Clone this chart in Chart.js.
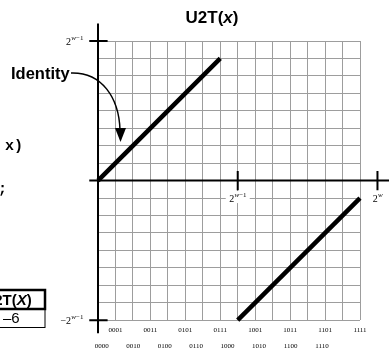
<!DOCTYPE html>
<html>
<head>
<meta charset="utf-8">
<script src="https://cdn.jsdelivr.net/npm/chart.js@4/dist/chart.umd.min.js"></script>
<style>
  html, body { margin: 0; padding: 0; background: #fff; }
  #wrap { width: 389px; height: 351px; position: relative; }
</style>
</head>
<body>
<div id="wrap"><canvas id="u2tChart"></canvas></div>
<script>
// donnees du graphique
var binLabels = ['0000', '0001', '0010', '0011', '0100', '0101', '0110', '0111',
                 '1000', '1001', '1010', '1011', '1100', '1101', '1110', '1111'];
var oddTicks = [1, 3, 5, 7, 9, 11, 13, 15];
var evenTicks = [0, 2, 4, 6, 8, 10, 12, 14];
var identX = [0, 7];
var identY = [0, 7];
var wrapX = [8, 15];
var wrapY = [-8, -1];
var xTickMarks = [8, 16];          // 2^(w-1), 2^w
var xTickSups = ['w\u22121', 'w'];
var yTickMarks = [8, -8];          // 2^(w-1), -2^(w-1)
var yTickPrefix = ['', '\u2212'];

function toPoints(xs, ys) {
  return xs.map(function (x, i) { return { x: x, y: ys[i] }; });
}

// texte "2" + exposant
function powText(ctx, prefix, sup, x, y, align) {
  ctx.font = '10px "Liberation Serif"';
  var wBase = ctx.measureText(prefix + '2').width;
  ctx.font = 'italic 7px "Liberation Serif"';
  var wW = ctx.measureText(sup.charAt(0)).width;
  ctx.font = '7px "Liberation Serif"';
  var wRest = ctx.measureText(sup.slice(1)).width;
  var total = wBase + wW + wRest;
  var x0 = align === 'right' ? x - total : (align === 'center' ? x - total / 2 : x);
  ctx.textAlign = 'left';
  ctx.textBaseline = 'alphabetic';
  ctx.fillStyle = '#000';
  ctx.font = '10px "Liberation Serif"';
  ctx.fillText(prefix + '2', x0, y + 3.5);
  ctx.font = 'italic 7px "Liberation Serif"';
  ctx.fillText(sup.charAt(0), x0 + wBase + 0.3, y - 1);
  ctx.font = '7px "Liberation Serif"';
  ctx.fillText(sup.slice(1), x0 + wBase + wW + 0.3, y - 1);
  return { x: x0, w: total };
}

var decorPlugin = {
  id: 'decor',
  afterDraw: function (chart) {
    var ctx = chart.ctx;
    var xs = chart.scales.x, ys = chart.scales.y;
    var x0 = xs.getPixelForValue(0), y0 = ys.getPixelForValue(0);
    ctx.save();

    // axes principaux
    ctx.strokeStyle = '#000';
    ctx.lineWidth = 2;
    ctx.beginPath();
    ctx.moveTo(x0, ys.getPixelForValue(9));
    ctx.lineTo(x0, ys.getPixelForValue(-8.75));
    ctx.moveTo(xs.getPixelForValue(-0.5), y0);
    ctx.lineTo(chart.width, y0);
    ctx.stroke();

    // graduations en croix
    ctx.beginPath();
    yTickMarks.forEach(function (v) {
      var py = ys.getPixelForValue(v);
      ctx.moveTo(xs.getPixelForValue(-0.5), py);
      ctx.lineTo(xs.getPixelForValue(0.55), py);
    });
    xTickMarks.forEach(function (v) {
      var px = xs.getPixelForValue(v);
      ctx.moveTo(px, ys.getPixelForValue(0.55));
      ctx.lineTo(px, ys.getPixelForValue(-0.55));
    });
    ctx.stroke();

    // etiquettes des axes
    yTickMarks.forEach(function (v, i) {
      powText(ctx, yTickPrefix[i], 'w\u22121', xs.getPixelForValue(-0.85), ys.getPixelForValue(v), 'right');
    });
    xTickMarks.forEach(function (v, i) {
      var px = xs.getPixelForValue(v), py = ys.getPixelForValue(-1);
      if (v <= xs.max) {
        ctx.fillStyle = '#fff';
        ctx.fillRect(px - 12, py - 7, 24, 12);
      }
      powText(ctx, '', xTickSups[i], px, py, 'center');
    });

    // titre
    ctx.fillStyle = '#000';
    ctx.textBaseline = 'alphabetic';
    ctx.textAlign = 'left';
    ctx.font = 'bold 17px "Liberation Sans"';
    var t1 = 'U2T(', t3 = ')';
    var w1 = ctx.measureText(t1).width, w3 = ctx.measureText(t3).width;
    ctx.font = 'bold italic 17px "Liberation Sans"';
    var w2 = ctx.measureText('x').width;
    var tx = 212 - (w1 + w2 + w3) / 2;
    ctx.font = 'bold 17px "Liberation Sans"';
    ctx.fillText(t1, tx, 23);
    ctx.font = 'bold italic 17px "Liberation Sans"';
    ctx.fillText('x', tx + w1, 23);
    ctx.font = 'bold 17px "Liberation Sans"';
    ctx.fillText(t3, tx + w1 + w2, 23);

    // Identity + fleche
    ctx.font = 'bold 16.5px "Liberation Sans"';
    ctx.fillText('Identity', 11, 79);
    ctx.lineWidth = 1.5;
    ctx.beginPath();
    ctx.moveTo(71, 73);
    ctx.bezierCurveTo(102, 72, 119, 98, 120, 130);
    ctx.stroke();
    ctx.beginPath();
    ctx.moveTo(115, 128);
    ctx.lineTo(126, 128);
    ctx.lineTo(120.5, 142);
    ctx.closePath();
    ctx.fill();

    // texte coupe a gauche
    ctx.font = 'bold 15px "Liberation Mono"';
    ctx.fillText('x)', 5, 150);
    ctx.fillText(';', -2, 193);

    // petit tableau coupe
    ctx.lineWidth = 2.5;
    ctx.strokeRect(-5, 290, 50, 19);
    ctx.lineWidth = 1;
    ctx.strokeRect(-5, 309.5, 50, 18);
    ctx.font = 'bold 15px "Liberation Sans"';
    var wt2 = ctx.measureText('2').width;
    var tx0 = 3 - wt2 - 0.5;
    ctx.fillText('2T(', tx0, 305);
    var wt = ctx.measureText('2T(').width;
    ctx.font = 'bold italic 15px "Liberation Sans"';
    ctx.fillText('X', tx0 + wt, 305);
    var wx = ctx.measureText('X').width;
    ctx.font = 'bold 15px "Liberation Sans"';
    ctx.fillText(')', tx0 + wt + wx, 305);
    ctx.font = '15px "Liberation Sans"';
    ctx.fillText('\u20136', 3, 323);

    ctx.restore();
  }
};

var gridGray = '#9d9d9d';

new Chart(document.getElementById('u2tChart').getContext('2d'), {
  type: 'scatter',
  data: {
    datasets: [
      { data: toPoints(identX, identY), showLine: true, borderColor: '#000', borderWidth: 4.5,
        pointRadius: 0, clip: false, borderCapStyle: 'butt' },
      { data: toPoints(wrapX, wrapY), showLine: true, borderColor: '#000', borderWidth: 4.5,
        pointRadius: 0, clip: false, borderCapStyle: 'butt' }
    ]
  },
  options: {
    responsive: true,
    maintainAspectRatio: false,
    animation: false,
    layout: { padding: { left: 98, right: 29, top: 41, bottom: 0 } },
    plugins: { legend: { display: false }, tooltip: { enabled: false }, title: { display: false } },
    scales: {
      x: {
        type: 'linear', position: 'bottom', min: 0, max: 15, weight: 0,
        grid: { color: gridGray, lineWidth: 1, drawTicks: false },
        border: { display: false },
        afterBuildTicks: function (s) {
          s.ticks = binLabels.map(function (l, i) { return { value: i }; });
        },
        ticks: {
          autoSkip: false, maxRotation: 0, padding: 6, color: '#000',
          font: { family: '"Liberation Serif"', size: 7 },
          callback: function (v) { return oddTicks.indexOf(v) >= 0 ? binLabels[v] : ''; }
        }
      },
      x2: {
        type: 'linear', position: 'bottom', min: -0.235, max: 16.41, weight: 1,
        grid: { display: false, drawTicks: false },
        border: { display: false },
        afterBuildTicks: function (s) {
          s.ticks = evenTicks.map(function (v) { return { value: v }; });
        },
        ticks: {
          autoSkip: false, maxRotation: 0, padding: 1, color: '#000',
          font: { family: '"Liberation Serif"', size: 7 },
          callback: function (v) { return binLabels[v]; }
        }
      },
      y: {
        type: 'linear', min: -8, max: 8,
        grid: { color: gridGray, lineWidth: 1, drawTicks: false },
        border: { display: false },
        ticks: { display: false, stepSize: 1 }
      }
    }
  },
  plugins: [decorPlugin]
});
</script>
</body>
</html>
